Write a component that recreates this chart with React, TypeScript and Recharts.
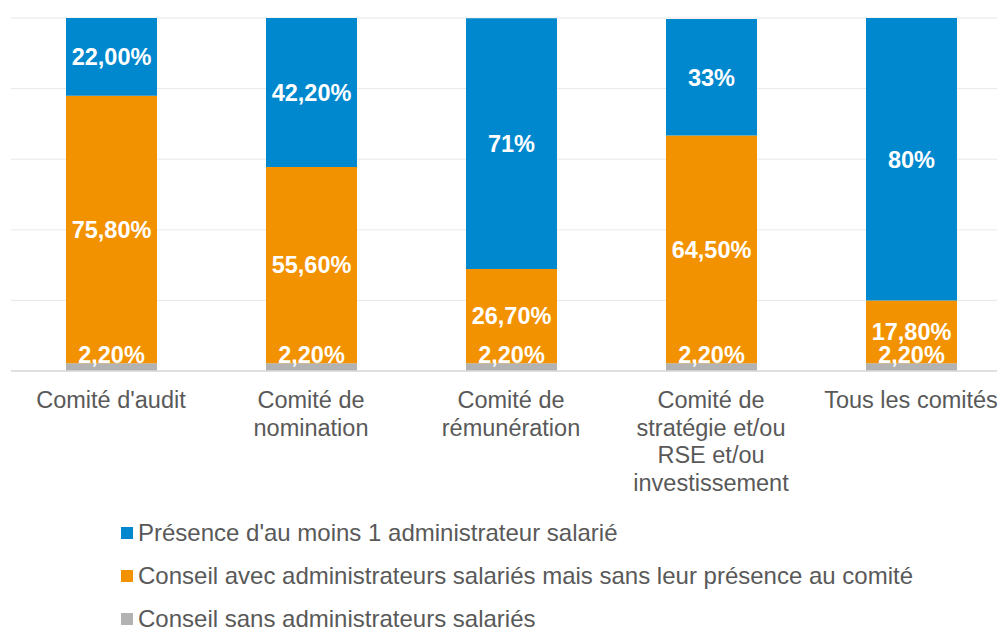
import { BarChart, Bar, XAxis, YAxis, CartesianGrid, Legend, LabelList } from 'recharts'

const categories = [
  "Comité d'audit",
  'Comité de\nnomination',
  'Comité de\nrémunération',
  'Comité de\nstratégie et/ou\nRSE et/ou\ninvestissement',
  'Tous les comités',
]
const sansAdmin = [2.2, 2.2, 2.2, 2.2, 2.2]
const sansPresence = [75.8, 55.6, 26.7, 64.5, 17.8]
const presence = [22.0, 42.2, 71, 33, 80]

const sansAdminLabels = ['2,20%', '2,20%', '2,20%', '2,20%', '2,20%']
const sansPresenceLabels = ['75,80%', '55,60%', '26,70%', '64,50%', '17,80%']
const presenceLabels = ['22,00%', '42,20%', '71%', '33%', '80%']

const yTicks = [0, 20, 40, 60, 80, 100]

const SERIES = [
  { key: 'presence', name: "Présence d'au moins 1 administrateur salarié", color: '#0088CE' },
  { key: 'sansPresence', name: 'Conseil avec administrateurs salariés mais sans leur présence au comité', color: '#F39200' },
  { key: 'sansAdmin', name: 'Conseil sans administrateurs salariés', color: '#B2B2B2' },
]

const data = categories.map((name, i) => ({
  name,
  sansAdmin: sansAdmin[i],
  sansPresence: sansPresence[i],
  presence: presence[i],
  sansAdminLabel: sansAdminLabels[i],
  sansPresenceLabel: sansPresenceLabels[i],
  presenceLabel: presenceLabels[i],
}))

const FONT = '"Liberation Sans", Arial, sans-serif'
const TEXT = '#595959'

function CategoryTick({ x, y, payload }: any) {
  const lines = String(payload.value).split('\n')
  return (
    <text x={x} y={y} textAnchor="middle" fill={TEXT} fontSize={23.5} fontFamily={FONT}>
      {lines.map((l, i) => (
        <tspan key={i} x={x} dy={i === 0 ? 37 : 27.5}>{l}</tspan>
      ))}
    </text>
  )
}

// small grey segment: label sits just above it, baseline on the segment top
function GreyLabel({ x, y, width, value }: any) {
  return (
    <text x={x + width / 2} y={y} textAnchor="middle" fill="#fff" fontSize={23.5} fontWeight="bold" fontFamily={FONT}>
      {value}
    </text>
  )
}

function LegendBox() {
  return (
    <div style={{ paddingLeft: 121, fontFamily: FONT }}>
      {SERIES.map(s => (
        <div key={s.key} style={{ display: 'flex', alignItems: 'center', height: 43 }}>
          <span style={{ width: 12, height: 12, background: s.color, marginRight: 5, flexShrink: 0 }} />
          <span style={{ fontSize: 24, color: TEXT, whiteSpace: 'nowrap' }}>{s.name}</span>
        </div>
      ))}
    </div>
  )
}

const labelStyle = { fill: '#fff', fontSize: 23.5, fontWeight: 'bold', fontFamily: FONT }

export default function App() {
  return (
    <div style={{ position: 'fixed', left: 0, top: 0, width: 997, height: 628, overflow: 'hidden', background: '#fff', fontFamily: FONT }}>
      <BarChart width={1020} height={628} data={data} margin={{ top: 18, right: 9, left: 11, bottom: 0 }}>
        <CartesianGrid vertical={false} stroke="#E8E8E8" />
        <XAxis
          dataKey="name"
          interval={0}
          tickLine={false}
          tickSize={0}
          tickMargin={0}
          height={128}
          axisLine={{ stroke: '#D9D9D9', strokeWidth: 1.5 }}
          tick={<CategoryTick />}
        />
        <YAxis hide domain={[0, 100]} ticks={yTicks} />
        <Legend content={<LegendBox />} wrapperStyle={{ top: 511, left: 0, width: 997 }} />
        <Bar dataKey="sansAdmin" stackId="a" fill="#B2B2B2" barSize={91} isAnimationActive={false}>
          <LabelList dataKey="sansAdminLabel" content={<GreyLabel />} />
        </Bar>
        <Bar dataKey="sansPresence" stackId="a" fill="#F39200" barSize={91} isAnimationActive={false}>
          <LabelList dataKey="sansPresenceLabel" position="center" style={labelStyle} />
        </Bar>
        <Bar dataKey="presence" stackId="a" fill="#0088CE" barSize={91} isAnimationActive={false}>
          <LabelList dataKey="presenceLabel" position="center" style={labelStyle} />
        </Bar>
      </BarChart>
    </div>
  )
}
